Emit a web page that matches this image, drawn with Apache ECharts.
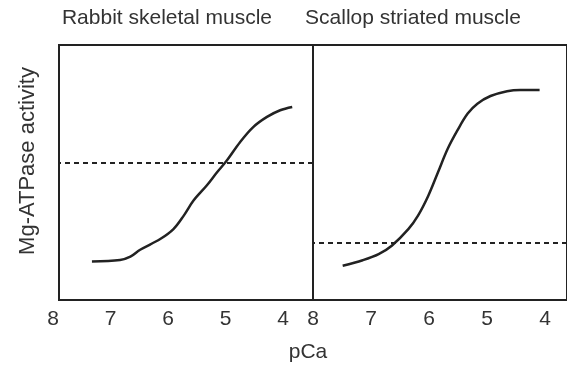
<!DOCTYPE html>
<html>
<head>
<meta charset="utf-8">
<script src="https://cdn.jsdelivr.net/npm/echarts@6/dist/echarts.min.js"></script>
<style>
  html, body { margin: 0; padding: 0; background: #fff; }
  #chart { width: 567px; height: 366px; }
</style>
</head>
<body>
<div id="chart"></div>
<script>
// pCa (x) vs relative Mg-ATPase activity (0-100, arbitrary units)
const rabbitPCa = [7.33, 6.84, 6.66, 6.49, 6.14, 5.91, 5.73, 5.56, 5.33, 5.15, 4.98, 4.75, 4.52, 4.28, 4.05, 3.84]
const rabbitAct = [15.1, 15.7, 17.0, 19.7, 23.9, 27.8, 33.1, 39.0, 44.9, 50.1, 54.7, 61.9, 67.8, 71.8, 74.4, 75.7]
const scallopPCa = [7.48, 7.13, 6.85, 6.62, 6.33, 6.16, 5.98, 5.81, 5.64, 5.47, 5.29, 5.12, 4.89, 4.60, 4.37, 4.03]
const scallopAct = [13.4, 15.6, 18.0, 21.3, 27.8, 33.1, 40.9, 50.1, 59.3, 66.5, 73.1, 77.0, 80.0, 81.9, 82.4, 82.4]
const baseline = [53.7, 22.4]          // dashed reference level, per panel
const tickValues = [8, 7, 6, 5, 4]
const panelTitles = ['Rabbit skeletal muscle', 'Scallop striated muscle']

const INK = '#222'
const TXT = '#333'
const FONT = 'Liberation Sans, Arial, sans-serif'

const pairs = (xs, ys) => xs.map((x, i) => [x, ys[i]])

/* 绘图区:左面板刻度与方框不对齐,所以刻度单独放一套坐标轴 */
const grids = [
  { left: 59, width: 254, top: 45, bottom: 66, show: true, borderColor: INK, borderWidth: 2 },
  { left: 313, right: -12, top: 45, bottom: 66, show: true, borderColor: INK, borderWidth: 2 },
  { left: 53, width: 230, top: 45, bottom: 66 },
  { left: 313, width: 232, top: 45, bottom: 66 },
]

const plotX = (gi, min, max) => ({
  type: 'value', gridIndex: gi, inverse: true, min, max, show: false,
})
const labelX = gi => ({
  type: 'value', gridIndex: gi, inverse: true, min: 4, max: 8, interval: 1,
  axisLine: { show: false }, axisTick: { show: false }, splitLine: { show: false },
  axisLabel: { color: TXT, fontSize: 21, fontFamily: FONT, margin: 9,
    formatter: v => (tickValues.includes(v) ? String(v) : '') },
})
const hiddenY = gi => ({ type: 'value', gridIndex: gi, min: 0, max: 100, show: false })

const dashed = v => ({
  silent: true, symbol: 'none', label: { show: false },
  lineStyle: { color: INK, width: 2, type: [5, 4] },
  data: [{ yAxis: v }],
})

const curve = (data, gi, base) => ({
  type: 'line', xAxisIndex: gi, yAxisIndex: gi, data,
  smooth: 0.35, symbol: 'none',
  lineStyle: { color: INK, width: 2.5 },
  markLine: dashed(base),
})

const titleText = { color: TXT, fontSize: 21, fontWeight: 'normal', fontFamily: FONT }

const option = {
  animation: false,
  textStyle: { fontFamily: FONT },
  title: [
    { text: panelTitles[0], left: 167, top: 8, padding: 0, textAlign: 'center', textStyle: titleText },
    { text: panelTitles[1], left: 413, top: 8, padding: 0, textAlign: 'center', textStyle: titleText },
    { text: 'pCa', left: 308, top: 342, padding: 0, textAlign: 'center', textStyle: titleText },
  ],
  graphic: [{
    type: 'text', x: 28, y: 161, rotation: Math.PI / 2,
    style: { text: 'Mg-ATPase activity', fill: TXT, fontSize: 22, fontFamily: FONT,
      textAlign: 'center', textVerticalAlign: 'middle' },
  }],
  grid: grids,
  xAxis: [plotX(0, 3.478, 7.904), plotX(1, 3.55, 8), labelX(2), labelX(3)],
  yAxis: [hiddenY(0), hiddenY(1), hiddenY(2), hiddenY(3)],
  series: [
    curve(pairs(rabbitPCa, rabbitAct), 0, baseline[0]),
    curve(pairs(scallopPCa, scallopAct), 1, baseline[1]),
  ],
}

const chart = echarts.init(document.getElementById('chart'))
chart.setOption(option)
</script>
</body>
</html>
